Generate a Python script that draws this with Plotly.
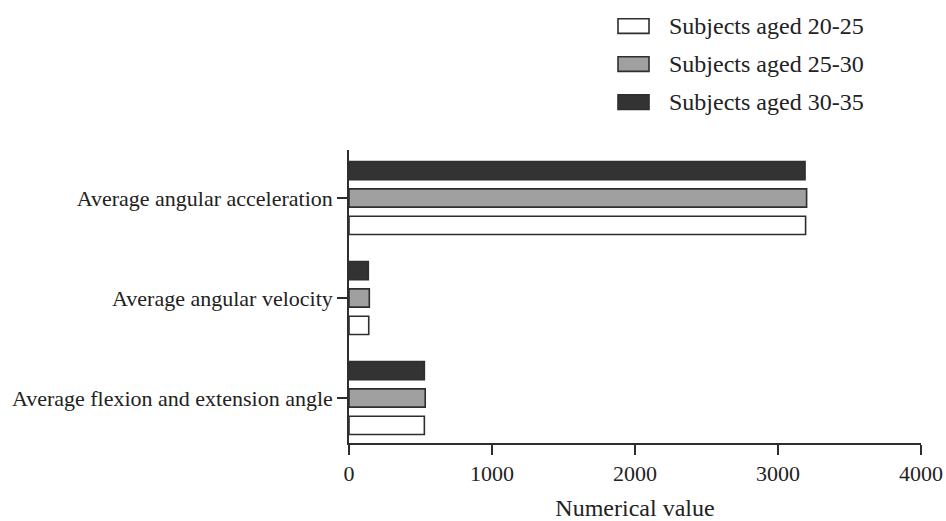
import plotly.graph_objects as go

# Measures (bottom to top on the category axis)
measures = [
    "Average flexion and extension angle",
    "Average angular velocity",
    "Average angular acceleration",
]

# Age groups, listed in legend order
groups = ["Subjects aged 20-25", "Subjects aged 25-30", "Subjects aged 30-35"]

# Values per group, aligned with `measures`
aged_20_25 = [527, 138, 3193]
aged_25_30 = [533, 142, 3200]
aged_30_35 = [527, 135, 3189]

x_ticks = [0, 1000, 2000, 3000, 4000]

fills = ["#ffffff", "#a0a0a0", "#333333"]
edge = "#2e2e2e"
font_family = "Liberation Serif, Times New Roman, serif"
text_color = "#222222"

fig = go.Figure()
for name, vals, fill in zip(groups, [aged_20_25, aged_25_30, aged_30_35], fills):
    fig.add_trace(go.Bar(
        y=measures,
        x=vals,
        name=name,
        orientation="h",
        marker=dict(color=fill, line=dict(color=edge, width=1.6)),
        showlegend=False,
    ))

# Hand-built legend with wide swatches
row_y = [1.4232, 1.2935, 1.1638]
sw_x0, sw_x1, sw_h = 0.4703, 0.5245, 0.0250
shapes = []
annotations = []
for name, fill, yc in zip(groups, fills, row_y):
    shapes.append(dict(
        type="rect", xref="paper", yref="paper",
        x0=sw_x0, x1=sw_x1, y0=yc - sw_h, y1=yc + sw_h,
        fillcolor=fill, line=dict(color=edge, width=1.6),
    ))
    annotations.append(dict(
        xref="paper", yref="paper", x=0.556, y=yc,
        text=name, showarrow=False, xanchor="left", yanchor="middle",
        font=dict(family=font_family, size=24, color=text_color),
    ))

fig.update_layout(
    width=946, height=521,
    margin=dict(l=349, r=25, t=150, b=78),
    paper_bgcolor="white", plot_bgcolor="white",
    barmode="group", bargap=0.18, bargroupgap=0.33,
    font=dict(family=font_family, color=text_color),
    shapes=shapes, annotations=annotations,
    xaxis=dict(
        range=[0, 4000], tickvals=x_ticks, ticktext=[str(v) for v in x_ticks],
        automargin=False,
        showgrid=False, zeroline=False,
        showline=True, linecolor=edge, linewidth=1.6,
        ticks="outside", ticklen=10, tickwidth=1.6, tickcolor=edge,
        tickfont=dict(size=22, family=font_family, color=text_color),
        title=dict(text="Numerical value", standoff=14,
                   font=dict(size=24, family=font_family, color=text_color)),
    ),
    yaxis=dict(
        type="category", categoryorder="array", categoryarray=measures,
        range=[-0.45, 2.48], automargin=False,
        showgrid=False, zeroline=False,
        showline=True, linecolor=edge, linewidth=1.6,
        ticks="outside", ticklen=10, tickwidth=1.6, tickcolor=edge,
        tickfont=dict(size=22, family=font_family, color=text_color),
    ),
)

fig.write_html("out.html")
